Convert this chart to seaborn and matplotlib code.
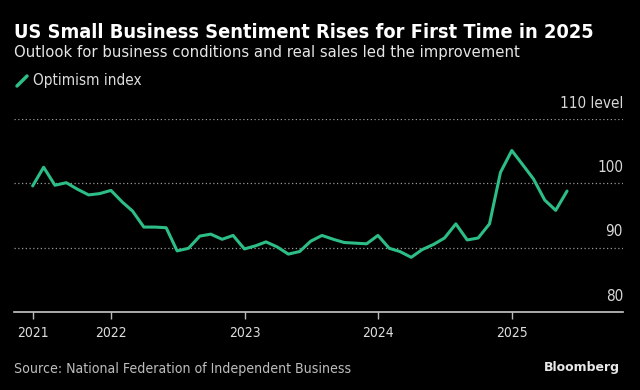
import pandas as pd
import matplotlib
matplotlib.use("Agg")
import matplotlib.pyplot as plt
import matplotlib.transforms as mtransforms
from matplotlib.lines import Line2D
import seaborn as sns

# NFIB small business optimism index, month-end dates
start_month = "2021-05-31"
optimism = [99.6, 102.5, 99.7, 100.1, 99.1, 98.2, 98.4, 98.9,
            97.1, 95.7, 93.2, 93.2, 93.1, 89.5, 89.9, 91.8, 92.1, 91.3, 91.9, 89.8,
            90.3, 90.9, 90.1, 89.0, 89.4, 91.0, 91.9, 91.3, 90.8, 90.7, 90.6, 91.9,
            89.9, 89.4, 88.5, 89.7, 90.5, 91.5, 93.7, 91.2, 91.5, 93.7, 101.7, 105.1,
            102.8, 100.7, 97.4, 95.8, 98.8]
y_ticks = [80, 90, 100, 110]
y_labels = ["80", "90", "100", "110 level"]
x_tick_dates = ["2021-05-31", "2022-01-01", "2023-01-01", "2024-01-01", "2025-01-01"]
x_tick_labels = ["2021", "2022", "2023", "2024", "2025"]

df = pd.DataFrame({
    "date": pd.date_range(start_month, periods=len(optimism), freq="ME"),
    "value": optimism,
})

sns.set_theme(style="dark")
plt.rcParams["font.family"] = ["DejaVu Sans"]
plt.rcParams["font.stretch"] = "condensed"

green = "#2dbd86"
bg = "black"

fig = plt.figure(figsize=(6.4, 3.9), dpi=100, facecolor=bg)
ax = fig.add_axes([14 / 640, 1 - 312 / 390, 609 / 640, (312 - 119) / 390])
ax.set_facecolor(bg)

sns.lineplot(data=df, x="date", y="value", ax=ax, color=green, linewidth=2.2)

x_end = pd.Timestamp("2025-10-31")
ax.set_ylim(80, 110)
ax.set_xlim(pd.Timestamp("2021-04-10"), x_end)

# dotted gridlines
for v in y_ticks[1:]:
    ax.axhline(v, color="#9a9a9a", linestyle=(0, (1, 2)), linewidth=0.9, zorder=0)

# y labels sit just above their gridline, right aligned inside the plot
trans = mtransforms.offset_copy(ax.transData, fig=fig, x=0, y=6, units="points")
for v, lab in zip(y_ticks, y_labels):
    ax.text(x_end, v, lab, transform=trans, ha="right", va="bottom",
            color="#d8d8d8", fontsize=11)

ax.set_xticks(pd.to_datetime(x_tick_dates))
ax.set_xticklabels(x_tick_labels)
ax.set_yticks([])
ax.tick_params(axis="x", colors="#bbbbbb", labelcolor="#dddddd", labelsize=10,
               length=5, width=1, direction="out", bottom=True, pad=5)
ax.set_xlabel("")
ax.set_ylabel("")
for s in ["top", "right", "left"]:
    ax.spines[s].set_visible(False)
ax.spines["bottom"].set_color("#c8c8c8")
ax.spines["bottom"].set_linewidth(1.2)
ax.grid(False)

fig.text(14 / 640, 1 - 33 / 390, "US Small Business Sentiment Rises for First Time in 2025",
         color="white", fontsize=14.3, fontweight="bold", va="center", ha="left")
fig.text(14 / 640, 1 - 53 / 390, "Outlook for business conditions and real sales led the improvement",
         color="#e6e6e6", fontsize=11.85, va="center", ha="left")

# legend
fig.add_artist(Line2D([17 / 640, 27 / 640], [1 - 86 / 390, 1 - 76 / 390], color=green,
                      linewidth=2.5, transform=fig.transFigure))
fig.text(33 / 640, 1 - 81 / 390, "Optimism index", color="#dddddd", fontsize=11,
         va="center", ha="left")

fig.text(14 / 640, 1 - 369 / 390, "Source: National Federation of Independent Business",
         color="#bdbdbd", fontsize=10.1, va="center", ha="left")
fig.text(620 / 640, 1 - 368 / 390, "Bloomberg", color="#e8e8e8", fontsize=9,
         fontweight="bold", va="center", ha="right", stretch="normal")

fig.savefig("out.png", dpi=100, facecolor=bg)
